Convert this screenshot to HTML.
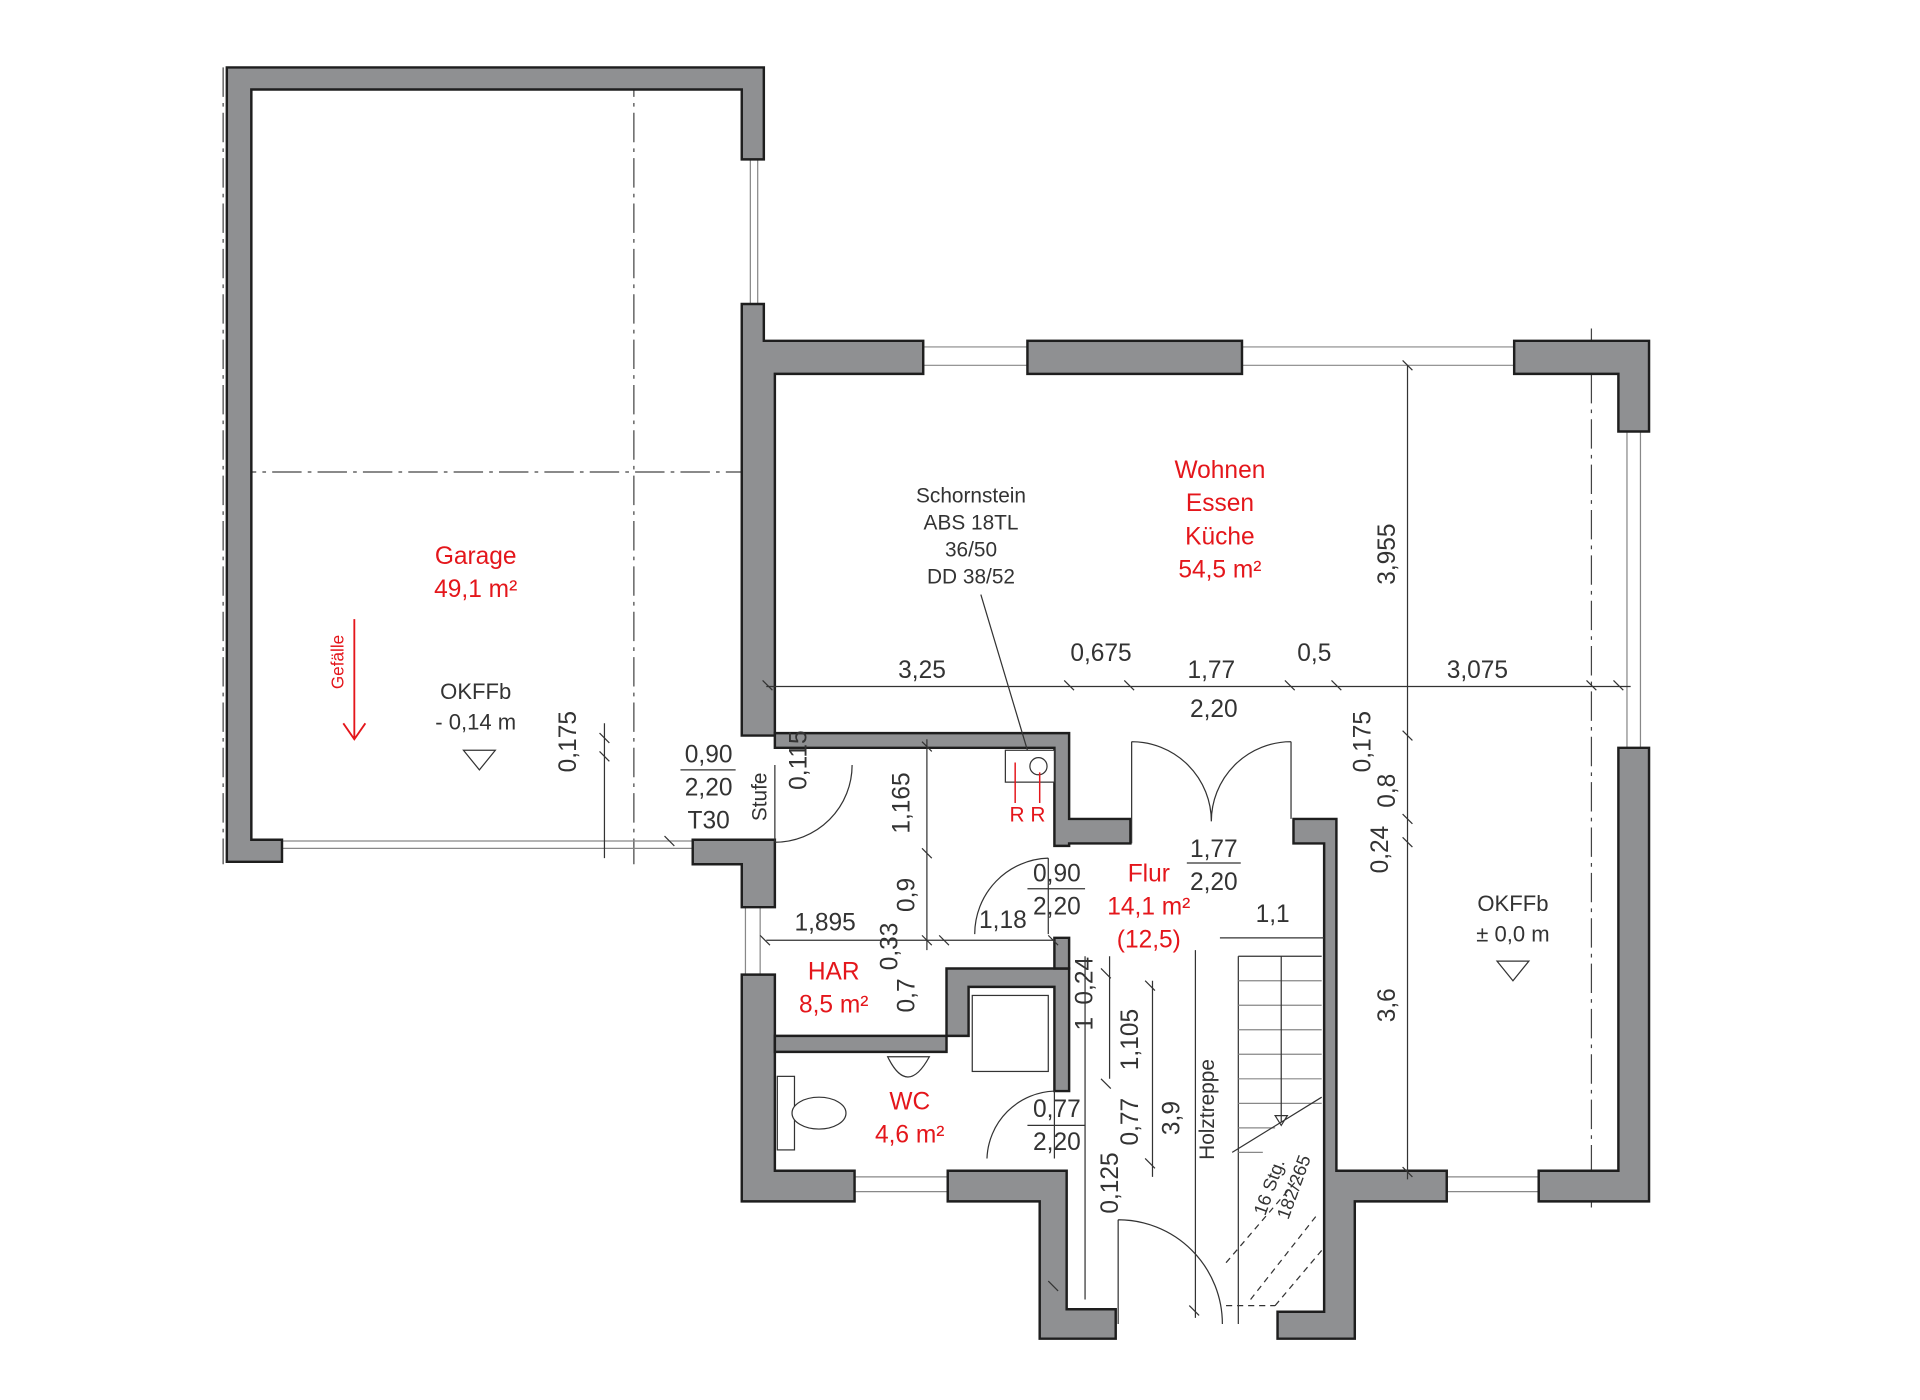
<!DOCTYPE html>
<html><head><meta charset="utf-8"><style>
html,body{margin:0;padding:0;background:#fff}
svg{display:block}
text{font-family:"Liberation Sans",sans-serif;fill:#333}
.r{fill:#e4161b}
.w{fill:#8f9092;stroke:#1e1e1e;stroke-width:2}
.d{stroke:#333;stroke-width:1;fill:none}
.t{stroke:#888;stroke-width:1;fill:none}
.c{stroke:#444;stroke-width:1;fill:none;stroke-dasharray:24 5 3 5}
</style></head><body>
<svg width="1920" height="1400" viewBox="0 0 1566 1142" preserveAspectRatio="none" xmlns="http://www.w3.org/2000/svg">
<path class="c" d="M517 55V705 M185 385H625 M182 55V705 M1298 268V985"/>
<path class="t" d="M612 130V248 M618 130V248 M753 283H838 M753 298H838 M1013 283H1235 M1013 298H1235 M1327 352V610 M1338 352V610 M230 686H565 M230 692H565 M697 960H773 M697 972H773 M1180 960H1255 M1180 972H1255 M608 740V795 M620 740V795"/>
<path class="w" d="M185 55H623V130H605V73H205V685H230V703H185Z"/>
<path class="w" d="M605 248H623V278H753V305H632V600H605Z"/>
<rect class="w" x="838" y="278" width="175" height="27"/>
<path class="w" d="M1235 278H1345V352H1320V305H1235Z"/>
<path class="w" d="M1320 610H1345V980H1255V955H1320Z"/>
<path class="w" d="M1055 668H1090V955H1180V980H1105V1092H1042V1070H1080V688H1055Z"/>
<path class="w" d="M565 685H632V740H605V705H565Z"/>
<path class="w" d="M605 795H632V955H697V980H605Z"/>
<path class="w" d="M773 955H870V1068H910V1092H848V980H773Z"/>
<path class="w" d="M632 598H872V668H922V688H872V690H860V610H632Z"/>
<path class="w" d="M632 845H772V858H632Z"/>
<path class="w" d="M772 790H872V890H860V805H790V845H772Z"/>
<path class="w" d="M860 765H872V790H860Z"/>
<rect x="820" y="612" width="40" height="26" fill="#fff" stroke="#333"/>
<circle cx="847" cy="625" r="7" fill="none" stroke="#333"/>
<path d="M828 622V655 M848 630V655" stroke="#e4161b" stroke-width="1.2"/>
<path class="d" d="M800 485L838 612"/>
<rect x="793" y="812" width="62" height="62" fill="#fff" stroke="#333"/>
<rect x="634" y="878" width="14" height="60" fill="#fff" stroke="#333"/>
<ellipse cx="668" cy="908" rx="22" ry="13" fill="#fff" stroke="#333"/>
<path class="d" d="M724 862Q740 895 758 862Z"/>
<path class="d" d="M632 687A63 63 0 0 0 695 624 M632 624V687"/>
<path class="d" d="M855 700A62 62 0 0 0 795 762 M855 700V762"/>
<path class="d" d="M860 890A57 57 0 0 0 805 945 M860 890V945"/>
<path class="d" d="M923 605A65 65 0 0 1 988 670 M1053 605A65 65 0 0 0 988 670 M923 605V688 M1053 605V668"/>
<path class="d" d="M912 995A85 85 0 0 1 997 1080 M912 995V1080"/>
<path class="d" d="M995 765H1080 M1010 780V1080 M1010 780H1078"/>
<path class="t" d="M1010 800H1078M1010 820H1078M1010 840H1078M1010 860H1078M1010 880H1078M1010 900H1078M1010 920H1040M1010 940H1030"/>
<path class="d" d="M1045 780V915 M1040 910L1045 918 1050 910Z M1005 940L1078 895" />
<path class="d" stroke-dasharray="5 4" d="M1000 1065H1040 M1000 1030L1060 960 M1020 1060L1075 990 M1040 1065L1078 1020"/>
<path class="d" d="M975 775V1075"/>
<path class="d" d="M625 560H1330 M1148 298V962 M756 603V775 M625 767H860 M905 780V880 M940 800V960 M493 590V700 M885 780V1060"/>
<path class="d" d="M622 555l8 8M868 555l8 8M917 555l8 8M1048 555l8 8M1086 555l8 8M1294 555l8 8M1316 555l8 8M1144 294l8 8M1144 596l8 8M1144 664l8 8M1144 683l8 8M1144 952l8 8M752 605l8 8M752 692l8 8M752 763l8 8M766 763l8 8M620 763l8 8M855 763l8 8M489 598l8 8M489 613l8 8M542 682l8 8M898 790l8 8M898 880l8 8M934 800l8 8M934 945l8 8M855 1045l8 8M970 1065l8 8"/>
<g class="r" font-size="20" text-anchor="middle">
<text class="r" x="388" y="460">Garage</text><text class="r" x="388" y="487">49,1 m²</text>
<text class="r" x="995" y="390">Wohnen</text><text class="r" x="995" y="417">Essen</text><text class="r" x="995" y="444">Küche</text><text class="r" x="995" y="471">54,5 m²</text>
<text class="r" x="937" y="719">Flur</text><text class="r" x="937" y="746">14,1 m²</text><text class="r" x="937" y="773">(12,5)</text>
<text class="r" x="680" y="799">HAR</text><text class="r" x="680" y="826">8,5 m²</text>
<text class="r" x="742" y="905">WC</text><text class="r" x="742" y="932">4,6 m²</text>
<text class="r" x="838" y="670" font-size="17">R R</text>
</g>
<text class="r" x="280" y="540" font-size="14" transform="rotate(-90 280 540)" text-anchor="middle">Gefälle</text>
<path d="M289 505V602 M280 590L289 603 298 590" stroke="#e4161b" fill="none" stroke-width="1.5"/>
<g font-size="17" text-anchor="middle">
<text x="792" y="410">Schornstein</text><text x="792" y="432">ABS 18TL</text><text x="792" y="454">36/50</text><text x="792" y="476">DD 38/52</text>
<text x="388" y="570" font-size="18">OKFFb</text><text x="388" y="595" font-size="18">- 0,14 m</text>
<text x="1234" y="743" font-size="18">OKFFb</text><text x="1234" y="768" font-size="18">± 0,0 m</text>
</g>
<path class="d" d="M378 612H404L391 628Z M1221 784H1247L1234 800Z"/>
<g font-size="20" text-anchor="middle">
<text x="752" y="553">3,25</text><text x="898" y="539">0,675</text><text x="988" y="553">1,77</text><text x="1072" y="539">0,5</text><text x="1205" y="553">3,075</text><text x="990" y="585">2,20</text>
<text x="578" y="622">0,90</text><text x="578" y="649">2,20</text><text x="578" y="676">T30</text>
<text x="862" y="719">0,90</text><text x="862" y="746">2,20</text>
<text x="990" y="699">1,77</text><text x="990" y="726">2,20</text>
<text x="862" y="911">0,77</text><text x="862" y="938">2,20</text>
<text x="673" y="759">1,895</text><text x="818" y="757">1,18</text><text x="1038" y="752">1,1</text>
</g>
<path class="d" d="M555 628H600M838 725H885M968 704H1012M838 918H885"/>
<g font-size="20" text-anchor="middle">
<text transform="translate(470 605) rotate(-90)">0,175</text>
<text transform="translate(658 620) rotate(-90)">0,115</text>
<text transform="translate(742 655) rotate(-90)">1,165</text>
<text transform="translate(746 730) rotate(-90)">0,9</text>
<text transform="translate(732 772) rotate(-90)">0,33</text>
<text transform="translate(746 812) rotate(-90)">0,7</text>
<text transform="translate(891 800) rotate(-90)">0,24</text>
<text transform="translate(891 835) rotate(-90)">1</text>
<text transform="translate(928 848) rotate(-90)">1,105</text>
<text transform="translate(928 915) rotate(-90)">0,77</text>
<text transform="translate(962 912) rotate(-90)">3,9</text>
<text transform="translate(912 965) rotate(-90)">0,125</text>
<text transform="translate(1138 452) rotate(-90)">3,955</text>
<text transform="translate(1118 605) rotate(-90)">0,175</text>
<text transform="translate(1138 645) rotate(-90)">0,8</text>
<text transform="translate(1132 693) rotate(-90)">0,24</text>
<text transform="translate(1138 820) rotate(-90)">3,6</text>
<text transform="translate(625 650) rotate(-90)" font-size="17">Stufe</text>
<text transform="translate(990 905) rotate(-90)" font-size="17">Holztreppe</text>
<text transform="translate(1040 970) rotate(-70)" font-size="15">16 Stg.</text>
<text transform="translate(1060 970) rotate(-70)" font-size="15">182/265</text>
</g>
</svg>
</body></html>
